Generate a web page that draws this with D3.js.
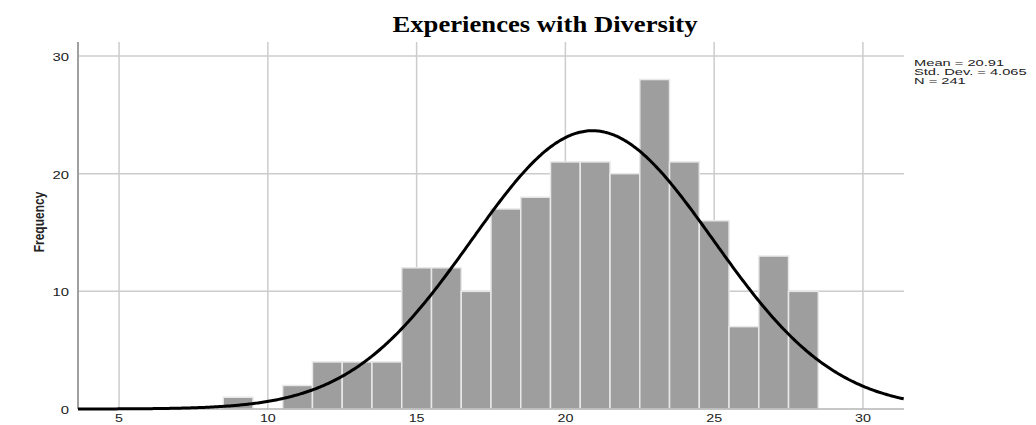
<!DOCTYPE html>
<html>
<head>
<meta charset="utf-8">
<script src="https://cdn.jsdelivr.net/npm/d3@7"></script>
<style>
  body { margin: 0; background: #fff; }
  svg { display: block; }
</style>
</head>
<body>
<div id="chart"></div>
<script>
// histogram bins (centre of each 1-wide bin) and counts
const binCentres = [9, 10, 11, 12, 13, 14, 15, 16, 17, 18, 19, 20, 21, 22, 23, 24, 25, 26, 27, 28];
const counts     = [1, 0, 2, 4, 4, 4, 12, 12, 10, 17, 18, 21, 21, 20, 28, 21, 16, 7, 13, 10];
const xTicks = [5, 10, 15, 20, 25, 30];
const yTicks = [0, 10, 20, 30];
const stats = { mean: 20.91, sd: 4.065, n: 241 };
const statLines = ["Mean = 20.91", "Std. Dev. = 4.065", "N = 241"];

const width = 1036, height = 425;
const plotL = 78, plotR = 904, plotT = 42, plotB = 409;

const svg = d3.select("#chart").append("svg")
    .attr("width", width)
    .attr("height", height);

const x = d3.scaleLinear().domain([3.62, 31.38]).range([plotL, plotR]);
const y = d3.scaleLinear().domain([0, 30]).range([plotB, 56]);

// gridlines
svg.append("g").selectAll("line")
    .data(xTicks)
    .enter().append("line")
    .attr("x1", d => x(d)).attr("x2", d => x(d))
    .attr("y1", plotT).attr("y2", plotB)
    .attr("stroke", "#cccccc").attr("stroke-width", 1.5);

svg.append("g").selectAll("line")
    .data(yTicks.filter(d => d > 0))
    .enter().append("line")
    .attr("x1", plotL).attr("x2", plotR)
    .attr("y1", d => y(d)).attr("y2", d => y(d))
    .attr("stroke", "#cccccc").attr("stroke-width", 1.5);

// bars
svg.append("g").selectAll("rect")
    .data(binCentres.map((c, i) => ({ c: c, v: counts[i] })).filter(d => d.v > 0))
    .enter().append("rect")
    .attr("x", d => x(d.c - 0.5))
    .attr("width", d => x(d.c + 0.5) - x(d.c - 0.5))
    .attr("y", d => y(d.v))
    .attr("height", d => y(0) - y(d.v))
    .attr("fill", "#9e9e9e")
    .attr("stroke", "#e8e8e8")
    .attr("stroke-width", 1.5);

// axes lines
svg.append("line")
    .attr("x1", plotL).attr("x2", plotL).attr("y1", plotT).attr("y2", plotB)
    .attr("stroke", "#a0a0a0").attr("stroke-width", 2);
svg.append("line")
    .attr("x1", plotL).attr("x2", plotR).attr("y1", plotB).attr("y2", plotB)
    .attr("stroke", "#b4b4b4").attr("stroke-width", 1.5);

// normal curve
const curvePts = d3.range(3.62, 31.39, 0.05).map(v => {
    let z = (v - stats.mean) / stats.sd;
    return [v, stats.n * Math.exp(-0.5 * z * z) / (stats.sd * Math.sqrt(2 * Math.PI))];
});
svg.append("path")
    .datum(curvePts)
    .attr("fill", "none")
    .attr("stroke", "#000")
    .attr("stroke-width", 3)
    .attr("d", d3.line().x(d => x(d[0])).y(d => y(d[1])).curve(d3.curveBasis));

// tick labels (the original text is stretched sideways)
svg.append("g").selectAll("text")
    .data(xTicks)
    .enter().append("text")
    .attr("transform", d => "translate(" + x(d) + ",422) scale(1.3,1)")
    .attr("text-anchor", "middle")
    .attr("font-family", "Liberation Sans, Arial, sans-serif")
    .attr("font-size", 11)
    .attr("fill", "#222")
    .text(d => d);

svg.append("g").selectAll("text")
    .data(yTicks)
    .enter().append("text")
    .attr("transform", d => "translate(69," + (y(d) + 5) + ") scale(1.29,1)")
    .attr("text-anchor", "end")
    .attr("font-family", "Liberation Sans, Arial, sans-serif")
    .attr("font-size", 11.5)
    .attr("fill", "#222")
    .text(d => d);

// y label (condensed)
svg.append("text")
    .attr("transform", "translate(44,222) rotate(-90) scale(0.8,1)")
    .attr("text-anchor", "middle")
    .attr("font-family", "Liberation Sans, Arial, sans-serif")
    .attr("font-weight", "bold")
    .attr("font-size", 15)
    .attr("fill", "#222")
    .text("Frequency");

// title
svg.append("text")
    .attr("transform", "translate(545,32) scale(1.16,1)")
    .attr("text-anchor", "middle")
    .attr("font-family", "Liberation Serif, Times New Roman, serif")
    .attr("font-weight", "bold")
    .attr("font-size", 23)
    .attr("fill", "#000")
    .text("Experiences with Diversity");

// stats box
svg.append("g").selectAll("text")
    .data(statLines)
    .enter().append("text")
    .attr("transform", (d, i) => "translate(914," + (66 + i * 8.8) + ") scale(1.53,1)")
    .attr("font-family", "Liberation Sans, Arial, sans-serif")
    .attr("font-size", 9.6)
    .attr("fill", "#222")
    .text(d => d);
</script>
</body>
</html>
